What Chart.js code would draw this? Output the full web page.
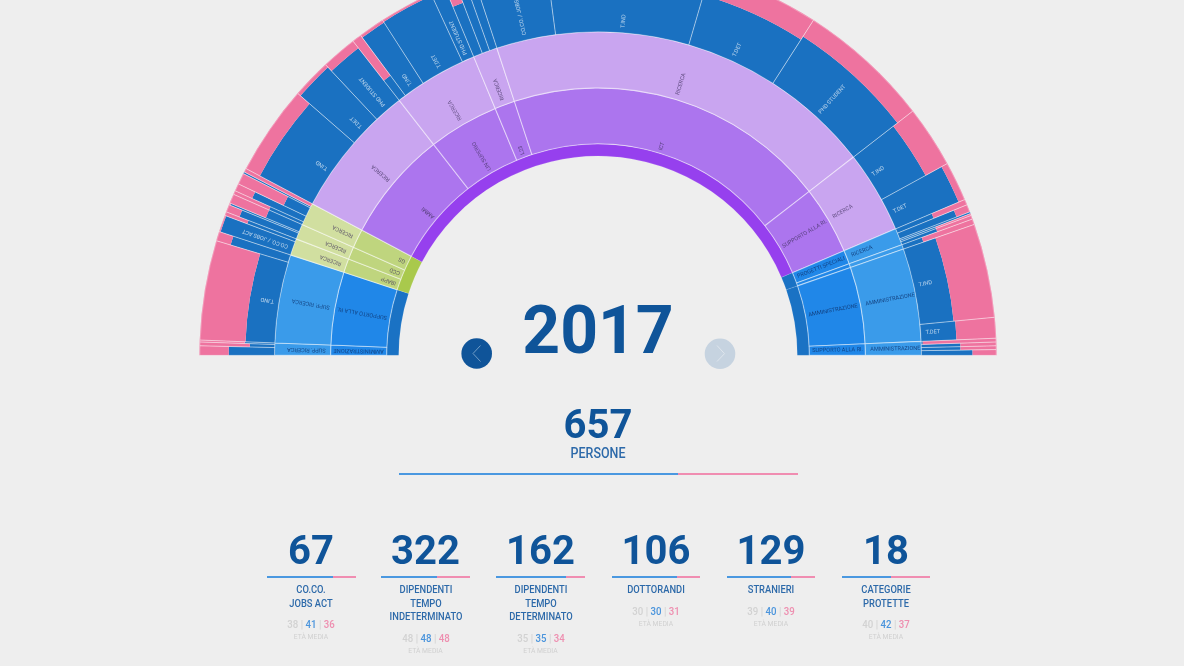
<!DOCTYPE html>
<html lang="it">
<head>
<meta charset="utf-8">
<title>2017</title>
<style>
html,body{margin:0;padding:0;width:1184px;height:666px;overflow:hidden;background:#eeeeee;font-family:Roboto,sans-serif}
#page{position:absolute;left:0;top:0;width:1184px;height:666px;overflow:hidden;filter:blur(.6px)}
#c{position:absolute;left:199px;top:-44px}
.abs{position:absolute;text-align:center}
#year{left:498px;width:200px;top:291px;font-size:66px;line-height:80px;font-weight:700;color:#0f5499}
#total{left:498px;width:200px;top:401px;font-size:40px;line-height:48px;font-weight:700;color:#0f5499}
#persone{left:498px;width:200px;top:445px;font-size:14px;line-height:16px;font-weight:500;color:#2c69a9;transform:scaleX(.89)}
.bar{position:absolute;height:2px;display:flex}
.bar i{display:block;height:100%}
.col{position:absolute;width:114px;top:0}
.num{position:absolute;left:0;right:0;top:527px;text-align:center;font-size:40px;line-height:48px;font-weight:700;color:#0f5499}
.txt{position:absolute;left:0;right:0;top:583px;text-align:center}
.lab{font-size:11px;line-height:13.5px;font-weight:500;color:#2c69a9;transform:scaleX(.85)}
.age{margin-top:7px;font-size:11.5px;line-height:14px;font-weight:500;color:#d2d2d2;transform:scaleX(.84)}
.age b{font-weight:500;color:#4a94dc}.age u{text-decoration:none;color:#ee8fb0}
.med{font-size:6.8px;line-height:12px;color:#d0d0d0}
svg{position:absolute}
</style>
</head>
<body>
<div id="page">
<canvas id="c" width="798" height="400"></canvas>
<svg style="left:461px;top:338px" width="32" height="32"><circle cx="15.7" cy="15.5" r="15.3" fill="#0f5499"/><path d="M19.5 7.5 L12 15.5 L19.5 23.5" fill="none" stroke="#6f9cc6" stroke-width="1"/></svg>
<svg style="left:704px;top:338px" width="32" height="32"><circle cx="16" cy="15.7" r="15.3" fill="#c6d3e0"/><path d="M13 7.5 L20.5 15.7 L13 23.5" fill="none" stroke="#dfe6ed" stroke-width="1"/></svg>
<div id="year" class="abs">2017</div>
<div id="total" class="abs">657</div>
<div id="persone" class="abs">PERSONE</div>
<div id="stats"></div>
</div>
<script src="https://cdn.jsdelivr.net/npm/chart.js@4/dist/chart.umd.min.js"></script>
<script>
// ---- sunburst data (people), ordered left to right along the half circle ----
const ring1Counts = [66, 36, 471, 14, 70];
const ring1Groups = ['blue', 'green', 'purple', 'blue', 'blue'];

const ring2Counts = [8, 58, 11, 10, 15, 88, 56, 16, 257, 54, 11, 3, 61, 9];
const ring2Groups = ['blue','blue','green','green','green','purple','purple','purple','purple','purple','blue','blue','blue','blue'];
const ring2Labels = ['AMMINISTRAZIONE','SUPPORTO ALLA RI.','IBAPP','CCD','GS','AMMI','LIN SUPERIO','L23','ICT','SUPPORTO ALLA RI.','PROGETTI SPECIALI','','AMMINISTRAZIONE','SUPPORTO ALLA RI.'];
const ring3Labels = ['SUPP. RICERCA','SUPP. RICERCA','RICERCA','RICERCA','RICERCA','RICERCA','RICERCA','RICERCA','RICERCA','RICERCA','RICERCA','','AMMINISTRAZIONE','AMMINISTRAZIONE'];

const leafCounts = [5,2,1, 53,5, 9,2, 4,1,5, 2,4,6,1,2, 48,21,19, 5,14,29,8, 6,5,5, 39,87,60,71, 33,21, 3,4,1,1,2,3, 50,11, 2,2,2,3];
const leafMaleShare = [.61,.33,.4, .39,.8, .98,.68, .81,.98,.48, .48,.75,.33,1,0, .79,.95,.88, .33,.96,.97,.96, .72,1,1, .98,.98,.69,.74, .67,.91, .52,.81,1,.5,.5,.28, .45,.47, .02,.52,.52,.68];
const leafLabels = ['','','', 'T.IND','', 'CO.CO. / JOBS ACT','', '','','', '','','','','', 'T.IND','T.DET','PHD STUDENT', '','T.IND','T.DET','PHD STUDENT', '','','', 'CO.CO. / JOBS ACT','T.IND','T.DET','PHD STUDENT', 'T.IND','T.DET', '','','','','','', 'T.IND','T.DET', '','','',''];

// ---- summary data ----
const yearLabel = '2017';
const peopleTotal = 657;
const peopleMaleShare = 0.70;
const statTotals = [67, 322, 162, 106, 129, 18];
const statMaleShare = [.75, .63, .79, .74, .73, .555];
const statLabels = [['CO.CO.','JOBS ACT'],['DIPENDENTI','TEMPO','INDETERMINATO'],['DIPENDENTI','TEMPO','DETERMINATO'],['DOTTORANDI'],['STRANIERI'],['CATEGORIE','PROTETTE']];
const statAgeAll = [38, 48, 35, 30, 39, 40];
const statAgeMale = [41, 48, 35, 30, 40, 42];
const statAgeFemale = [36, 48, 34, 31, 39, 37];

// ---- palette ----
const palette = {
  r1: {blue:'#1a72c4', green:'#a9c94c', purple:'#9640ee'},
  r2: {blue:'#2087e8', green:'#bfd57e', purple:'#ac75ee'},
  r3: {blue:'#3a9bea', green:'#d1dfa0', purple:'#c9a5f0'},
  male:'#1a71c1', female:'#ee739f'
};
const line = 'rgba(255,255,255,.34)';

const splitPlugin = {
  id:'leafSplit',
  afterDatasetsUpdate(chart){
    const overlay = chart.getDatasetMeta(0).data;
    const pink = chart.getDatasetMeta(1).data;
    const blue = chart.getDatasetMeta(2).data;
    const rOut = pink[0].outerRadius, rIn = blue[0].innerRadius;
    leafMaleShare.forEach((s,i)=>{
      const split = rIn + s*(rOut-rIn);
      blue[i].outerRadius = split; blue[i].innerRadius = rIn;
      pink[i].innerRadius = split; pink[i].outerRadius = rOut;
      overlay[i].innerRadius = rIn; overlay[i].outerRadius = rOut - .5;
    });
  }
};

const labelPlugin = {
  id:'arcLabels',
  afterDatasetsDraw(chart){
    const ctx = chart.ctx;
    const draw = (metaIndex, labels, color, pad)=>{
      chart.getDatasetMeta(metaIndex).data.forEach((el,i)=>{
        const t = labels[i]; if(!t) return;
        const mid = (el.startAngle+el.endAngle)/2;
        ctx.save();
        ctx.translate(el.x, el.y);
        ctx.rotate(mid);
        ctx.font = '400 5.6px Roboto';
        ctx.textAlign = 'left'; ctx.textBaseline = 'middle';
        ctx.fillStyle = typeof color==='function' ? color(i) : color;
        ctx.fillText(t, el.innerRadius+pad, 0);
        ctx.restore();
      });
    };
    draw(0, leafLabels, 'rgba(255,255,255,.7)', 5);
    const dark = i => ring2Groups[i]==='blue' ? 'rgba(15,55,115,.85)' : 'rgba(60,45,90,.75)';
    draw(3, ring3Labels, dark, 5);
    draw(4, ring2Labels, dark, 3);
  }
};

new Chart(document.getElementById('c'), {
  type:'doughnut',
  data:{
    labels: leafCounts.map((_,i)=>String(i)),
    datasets:[
      {data:leafCounts, weight:0, backgroundColor:'rgba(0,0,0,0)', borderColor:line, borderWidth:.8},
      {data:leafCounts, weight:37.5, backgroundColor:palette.female, borderWidth:0},
      {data:leafCounts, weight:37.5, backgroundColor:palette.male, borderWidth:0},
      {data:ring2Counts, weight:56, backgroundColor:ring2Groups.map(g=>palette.r3[g]), borderColor:'rgba(255,255,255,.45)', borderWidth:1.1},
      {data:ring2Counts, weight:56, backgroundColor:ring2Groups.map(g=>palette.r2[g]), borderColor:'rgba(255,255,255,.45)', borderWidth:1.1},
      {data:ring1Counts, weight:12, backgroundColor:ring1Groups.map(g=>palette.r1[g]), borderColor:'rgba(255,255,255,.2)', borderWidth:.6}
    ]
  },
  options:{
    responsive:false, animation:false, rotation:-90, circumference:180, cutout:'50%',
    layout:{padding:0},
    plugins:{legend:{display:false}, tooltip:{enabled:false}}
  },
  plugins:[splitPlugin, labelPlugin]
});

// ---- summary block ----
document.getElementById('year').textContent = yearLabel;
document.getElementById('total').textContent = peopleTotal;
const page = document.getElementById('page');
function addBar(left, width, top, share){
  const b = document.createElement('div');
  b.className='bar';
  b.style.cssText = `left:${left}px;width:${width}px;top:${top}px`;
  b.innerHTML = `<i style="width:${share*100}%;background:#4a98e0"></i><i style="width:${(1-share)*100}%;background:#f08db1"></i>`;
  page.appendChild(b);
}
addBar(399, 399, 472.5, peopleMaleShare);
const colCenters = [311, 425.5, 540.5, 656, 771, 886];
statTotals.forEach((n,i)=>{
  const col = document.createElement('div');
  col.className='col';
  col.style.left = (colCenters[i]-57)+'px';
  col.innerHTML = `<div class="num">${n}</div><div class="txt"><div class="lab">${statLabels[i].join('<br>')}</div>`+
    `<div class="age">${statAgeAll[i]} | <b>${statAgeMale[i]}</b> | <u>${statAgeFemale[i]}</u></div><div class="med">ETÀ MEDIA</div></div>`;
  page.appendChild(col);
  addBar(colCenters[i]-44.5, 89, 575.7, statMaleShare[i]);
});
</script>
</body>
</html>
